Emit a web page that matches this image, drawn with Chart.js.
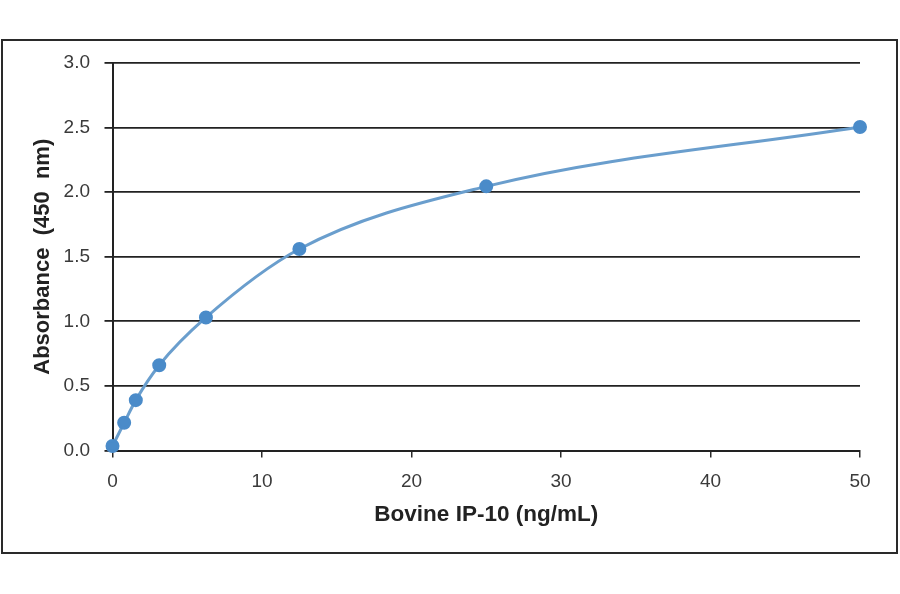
<!DOCTYPE html>
<html>
<head>
<meta charset="utf-8">
<script src="https://cdn.jsdelivr.net/npm/chart.js@4.4.1/dist/chart.umd.min.js"></script>
<style>
  html, body { margin: 0; padding: 0; background: #fff; }
  #wrap { width: 900px; height: 594px; }
</style>
</head>
<body>
<div id="wrap"><canvas id="curve" width="900" height="594"></canvas></div>
<script>
// standard curve readings
const concentrations = [0, 0.78, 1.56, 3.125, 6.25, 12.5, 25, 50];
const absorbance = [0.035, 0.215, 0.39, 0.66, 1.03, 1.56, 2.045, 2.505];

const xTitle = 'Bovine IP-10 (ng/mL)';
const yTitle = 'Absorbance  (450  nm)';

let points = [];
concentrations.forEach((c, i) => points.push({ x: c, y: absorbance[i] }));

// outer frame round the whole figure
const frame = {
    id: 'frame',
    beforeDraw(chart) {
        const ctx = chart.ctx;
        ctx.save();
        ctx.fillStyle = '#fff';
        ctx.fillRect(0, 0, chart.width, chart.height);
        ctx.strokeStyle = '#2a2a2a';
        ctx.lineWidth = 2;
        ctx.strokeRect(2, 40, 895, 513);
        ctx.restore();
    }
};

const ctx = document.getElementById('curve').getContext('2d');
let graph = new Chart(ctx, {
    type: 'scatter',
    data: {
        datasets: [{
            data: points,
            showLine: true,
            cubicInterpolationMode: 'monotone',
            borderColor: '#6a9ecd',
            borderWidth: 3,
            pointBackgroundColor: '#4a8bc9',
            pointBorderColor: '#4a8bc9',
            pointRadius: 5.5,
            pointHoverRadius: 5.5,
            clip: false
        }]
    },
    options: {
        responsive: false,
        animation: false,
        layout: { padding: { left: 0, top: 63, right: 40, bottom: 0 } },
        plugins: { legend: { display: false }, tooltip: { enabled: false } },
        scales: {
            x: {
                type: 'linear',
                min: 0,
                max: 50,
                afterFit: s => { s.height = 143.5; },
                ticks: {
                    stepSize: 10,
                    padding: 13,
                    color: '#3a3a3a',
                    font: { family: 'Liberation Sans, Arial', size: 19 }
                },
                grid: { drawOnChartArea: false, tickLength: 7, color: '#2a2a2a', lineWidth: 1.5 },
                border: { color: '#222', width: 2 },
                title: {
                    display: true,
                    text: xTitle,
                    color: '#222',
                    padding: { top: 0, bottom: 66 },
                    font: { family: 'Liberation Sans, Arial', size: 22.5, weight: 'bold' }
                }
            },
            y: {
                min: 0,
                max: 3,
                afterFit: s => { s.width = 112.5; },
                ticks: {
                    stepSize: 0.5,
                    padding: 14.5,
                    color: '#3a3a3a',
                    font: { family: 'Liberation Sans, Arial', size: 19 },
                    callback: v => v.toFixed(1)
                },
                grid: { tickLength: 8, color: '#222', lineWidth: 1.8 },
                border: { color: '#222', width: 2 },
                title: {
                    display: true,
                    text: yTitle,
                    color: '#222',
                    padding: { top: 30, bottom: 0 },
                    font: { family: 'Liberation Sans, Arial', size: 22, weight: 'bold' }
                }
            }
        }
    },
    plugins: [frame]
});
</script>
</body>
</html>
